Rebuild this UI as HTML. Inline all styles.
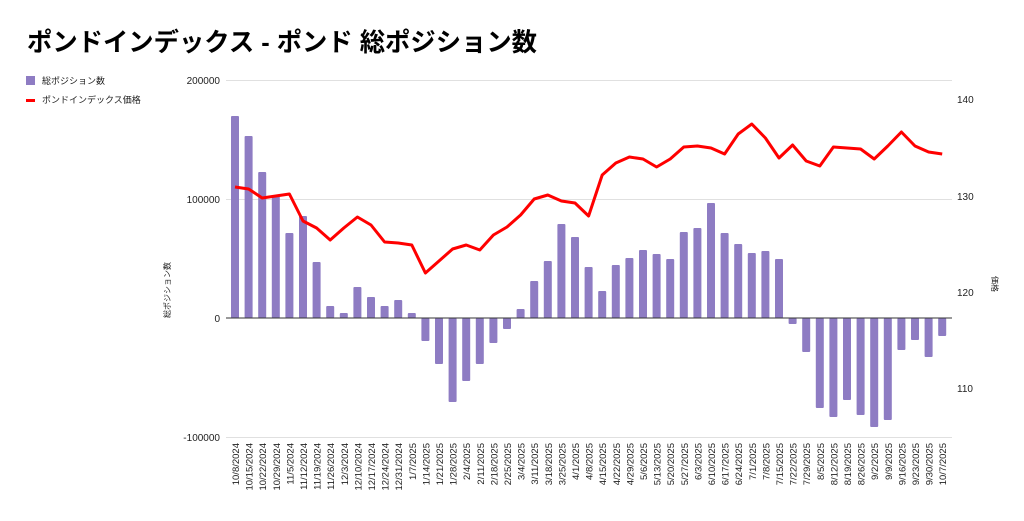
<!DOCTYPE html>
<html><head><meta charset="utf-8"><style>
body{margin:0;background:#fff;width:1024px;height:516px;overflow:hidden}
svg{font-family:"Liberation Sans","Noto Sans CJK JP",sans-serif}
</style></head><body>
<svg width="1024" height="516" xmlns="http://www.w3.org/2000/svg">
<text x="27" y="51" font-size="25.5" font-weight="bold" fill="#000" textLength="510" lengthAdjust="spacingAndGlyphs">ポンドインデックス - ポンド 総ポジション数</text>
<rect x="26" y="76" width="9" height="9" fill="#8e7cc3"/>
<text x="42" y="84" font-size="9" fill="#222">総ポジション数</text>
<rect x="26" y="99" width="9" height="3" fill="#ff0000"/>
<text x="42" y="103" font-size="9" fill="#222">ポンドインデックス価格</text>
<g stroke="#e0e0e0" stroke-width="1">
<line x1="226" y1="80.5" x2="952" y2="80.5"/>
<line x1="226" y1="199.5" x2="952" y2="199.5"/>
<line x1="226" y1="437.5" x2="952" y2="437.5"/>
</g>
<g font-size="10" fill="#222" text-anchor="end">
<text x="220" y="84">200000</text>
<text x="220" y="203">100000</text>
<text x="220" y="322">0</text>
<text x="220" y="441">-100000</text>
</g>
<g font-size="10" fill="#222">
<text x="957" y="103">140</text>
<text x="957" y="200">130</text>
<text x="957" y="296">120</text>
<text x="957" y="392">110</text>
</g>
<text transform="translate(170,290) rotate(-90)" font-size="8" fill="#222" text-anchor="middle">総ポジション数</text>
<text transform="translate(992,284) rotate(90)" font-size="8" fill="#222" text-anchor="middle">価格</text>
<g fill="#8e7cc3">
<rect x="231" y="116" width="8" height="202" rx="1"/>
<rect x="244.6" y="136" width="8" height="182" rx="1"/>
<rect x="258.2" y="172" width="8" height="146" rx="1"/>
<rect x="271.8" y="196" width="8" height="122" rx="1"/>
<rect x="285.4" y="233" width="8" height="85" rx="1"/>
<rect x="299" y="216" width="8" height="102" rx="1"/>
<rect x="312.6" y="262" width="8" height="56" rx="1"/>
<rect x="326.2" y="306" width="8" height="12" rx="1"/>
<rect x="339.8" y="313" width="8" height="5" rx="1"/>
<rect x="353.4" y="287" width="8" height="31" rx="1"/>
<rect x="367" y="297" width="8" height="21" rx="1"/>
<rect x="380.6" y="306" width="8" height="12" rx="1"/>
<rect x="394.2" y="300" width="8" height="18" rx="1"/>
<rect x="407.8" y="313" width="8" height="5" rx="1"/>
<rect x="421.4" y="318" width="8" height="23" rx="1"/>
<rect x="435" y="318" width="8" height="46" rx="1"/>
<rect x="448.6" y="318" width="8" height="84" rx="1"/>
<rect x="462.2" y="318" width="8" height="63" rx="1"/>
<rect x="475.8" y="318" width="8" height="46" rx="1"/>
<rect x="489.4" y="318" width="8" height="25" rx="1"/>
<rect x="503" y="318" width="8" height="11" rx="1"/>
<rect x="516.6" y="309" width="8" height="9" rx="1"/>
<rect x="530.2" y="281" width="8" height="37" rx="1"/>
<rect x="543.8" y="261" width="8" height="57" rx="1"/>
<rect x="557.4" y="224" width="8" height="94" rx="1"/>
<rect x="571" y="237" width="8" height="81" rx="1"/>
<rect x="584.6" y="267" width="8" height="51" rx="1"/>
<rect x="598.2" y="291" width="8" height="27" rx="1"/>
<rect x="611.8" y="265" width="8" height="53" rx="1"/>
<rect x="625.4" y="258" width="8" height="60" rx="1"/>
<rect x="639" y="250" width="8" height="68" rx="1"/>
<rect x="652.6" y="254" width="8" height="64" rx="1"/>
<rect x="666.2" y="259" width="8" height="59" rx="1"/>
<rect x="679.8" y="232" width="8" height="86" rx="1"/>
<rect x="693.4" y="228" width="8" height="90" rx="1"/>
<rect x="707" y="203" width="8" height="115" rx="1"/>
<rect x="720.6" y="233" width="8" height="85" rx="1"/>
<rect x="734.2" y="244" width="8" height="74" rx="1"/>
<rect x="747.8" y="253" width="8" height="65" rx="1"/>
<rect x="761.4" y="251" width="8" height="67" rx="1"/>
<rect x="775" y="259" width="8" height="59" rx="1"/>
<rect x="788.6" y="318" width="8" height="6" rx="1"/>
<rect x="802.2" y="318" width="8" height="34" rx="1"/>
<rect x="815.8" y="318" width="8" height="90" rx="1"/>
<rect x="829.4" y="318" width="8" height="99" rx="1"/>
<rect x="843" y="318" width="8" height="82" rx="1"/>
<rect x="856.6" y="318" width="8" height="97" rx="1"/>
<rect x="870.2" y="318" width="8" height="109" rx="1"/>
<rect x="883.8" y="318" width="8" height="102" rx="1"/>
<rect x="897.4" y="318" width="8" height="32" rx="1"/>
<rect x="911" y="318" width="8" height="22" rx="1"/>
<rect x="924.6" y="318" width="8" height="39" rx="1"/>
<rect x="938.2" y="318" width="8" height="18" rx="1"/>
</g>
<line x1="226" y1="318" x2="952" y2="318" stroke="#333" stroke-width="1"/>
<polyline fill="none" stroke="#ff0000" stroke-width="3" stroke-linejoin="round" points="235,187 248.6,189 262.2,198 275.8,196 289.4,194 303,221 316.6,228 330.2,240 343.8,228 357.4,217 371,225 384.6,242 398.2,243 411.8,245 425.4,273 439,261 452.6,249 466.2,245 479.8,250 493.4,235 507,227 520.6,215 534.2,199 547.8,195 561.4,201 575,203 588.6,216 602.2,175 615.8,163 629.4,157 643,159 656.6,167 670.2,159 683.8,147 697.4,146 711,148 724.6,154 738.2,134 751.8,124 765.4,138 779,158 792.6,145 806.2,161 819.8,166 833.4,147 847,148 860.6,149 874.2,159 887.8,146 901.4,132 915,146 928.6,152 942.2,154"/>
<g font-size="9.5" fill="#222" text-anchor="end">
<text transform="translate(239,443) rotate(-90)">10/8/2024</text>
<text transform="translate(252.6,443) rotate(-90)">10/15/2024</text>
<text transform="translate(266.2,443) rotate(-90)">10/22/2024</text>
<text transform="translate(279.8,443) rotate(-90)">10/29/2024</text>
<text transform="translate(293.4,443) rotate(-90)">11/5/2024</text>
<text transform="translate(307,443) rotate(-90)">11/12/2024</text>
<text transform="translate(320.6,443) rotate(-90)">11/19/2024</text>
<text transform="translate(334.2,443) rotate(-90)">11/26/2024</text>
<text transform="translate(347.8,443) rotate(-90)">12/3/2024</text>
<text transform="translate(361.4,443) rotate(-90)">12/10/2024</text>
<text transform="translate(375,443) rotate(-90)">12/17/2024</text>
<text transform="translate(388.6,443) rotate(-90)">12/24/2024</text>
<text transform="translate(402.2,443) rotate(-90)">12/31/2024</text>
<text transform="translate(415.8,443) rotate(-90)">1/7/2025</text>
<text transform="translate(429.4,443) rotate(-90)">1/14/2025</text>
<text transform="translate(443,443) rotate(-90)">1/21/2025</text>
<text transform="translate(456.6,443) rotate(-90)">1/28/2025</text>
<text transform="translate(470.2,443) rotate(-90)">2/4/2025</text>
<text transform="translate(483.8,443) rotate(-90)">2/11/2025</text>
<text transform="translate(497.4,443) rotate(-90)">2/18/2025</text>
<text transform="translate(511,443) rotate(-90)">2/25/2025</text>
<text transform="translate(524.6,443) rotate(-90)">3/4/2025</text>
<text transform="translate(538.2,443) rotate(-90)">3/11/2025</text>
<text transform="translate(551.8,443) rotate(-90)">3/18/2025</text>
<text transform="translate(565.4,443) rotate(-90)">3/25/2025</text>
<text transform="translate(579,443) rotate(-90)">4/1/2025</text>
<text transform="translate(592.6,443) rotate(-90)">4/8/2025</text>
<text transform="translate(606.2,443) rotate(-90)">4/15/2025</text>
<text transform="translate(619.8,443) rotate(-90)">4/22/2025</text>
<text transform="translate(633.4,443) rotate(-90)">4/29/2025</text>
<text transform="translate(647,443) rotate(-90)">5/6/2025</text>
<text transform="translate(660.6,443) rotate(-90)">5/13/2025</text>
<text transform="translate(674.2,443) rotate(-90)">5/20/2025</text>
<text transform="translate(687.8,443) rotate(-90)">5/27/2025</text>
<text transform="translate(701.4,443) rotate(-90)">6/3/2025</text>
<text transform="translate(715,443) rotate(-90)">6/10/2025</text>
<text transform="translate(728.6,443) rotate(-90)">6/17/2025</text>
<text transform="translate(742.2,443) rotate(-90)">6/24/2025</text>
<text transform="translate(755.8,443) rotate(-90)">7/1/2025</text>
<text transform="translate(769.4,443) rotate(-90)">7/8/2025</text>
<text transform="translate(783,443) rotate(-90)">7/15/2025</text>
<text transform="translate(796.6,443) rotate(-90)">7/22/2025</text>
<text transform="translate(810.2,443) rotate(-90)">7/29/2025</text>
<text transform="translate(823.8,443) rotate(-90)">8/5/2025</text>
<text transform="translate(837.4,443) rotate(-90)">8/12/2025</text>
<text transform="translate(851,443) rotate(-90)">8/19/2025</text>
<text transform="translate(864.6,443) rotate(-90)">8/26/2025</text>
<text transform="translate(878.2,443) rotate(-90)">9/2/2025</text>
<text transform="translate(891.8,443) rotate(-90)">9/9/2025</text>
<text transform="translate(905.4,443) rotate(-90)">9/16/2025</text>
<text transform="translate(919,443) rotate(-90)">9/23/2025</text>
<text transform="translate(932.6,443) rotate(-90)">9/30/2025</text>
<text transform="translate(946.2,443) rotate(-90)">10/7/2025</text>
</g>
</svg>
</body></html>
